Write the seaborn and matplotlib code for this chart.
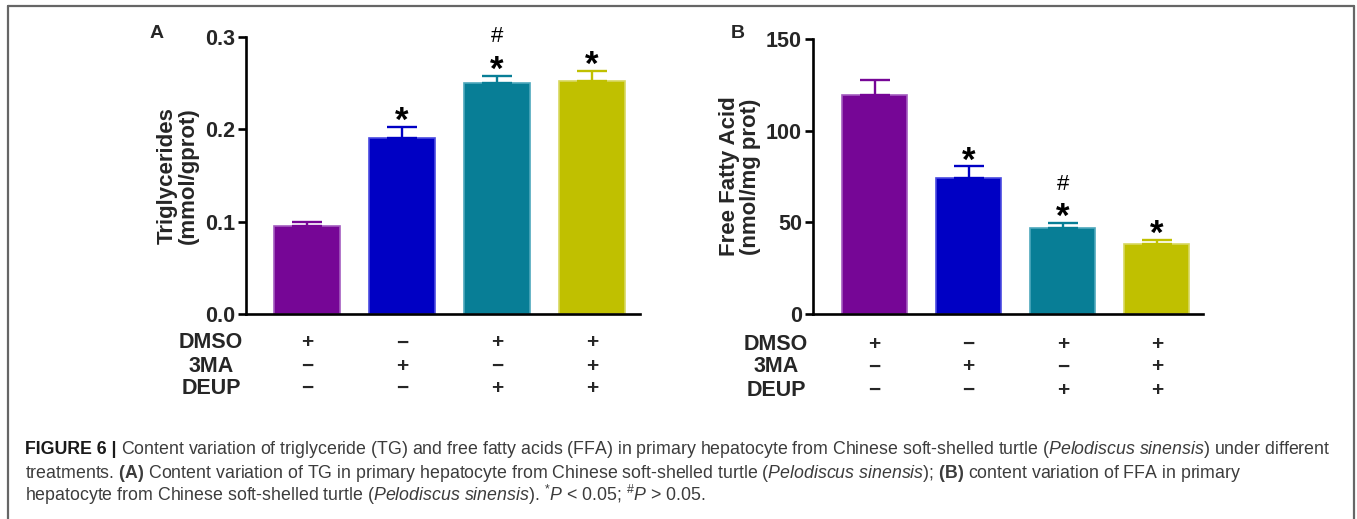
import numpy as np
import pandas as pd
import matplotlib
matplotlib.use("Agg")
import matplotlib.pyplot as plt
import matplotlib.transforms as mtransforms
from matplotlib.lines import Line2D
import seaborn as sns

# ---------------- data ----------------
groups = ["DMSO", "3MA", "DEUP", "3MA+DEUP"]
tg_mean = [0.095, 0.191, 0.250, 0.252]
tg_err = [0.005, 0.012, 0.008, 0.011]
ffa_mean = [119.5, 74.0, 47.1, 38.0]
ffa_err = [8.1, 6.5, 2.5, 2.4]
tg_marks = ["", "*", "*", "*"]
tg_hash = ["", "", "#", ""]
ffa_marks = ["", "*", "*", "*"]
ffa_hash = ["", "", "#", ""]
row_names = ["DMSO", "3MA", "DEUP"]
dmso_signs = ["+", "\u2212", "+", "+"]
ma3_signs = ["\u2212", "+", "\u2212", "+"]
deup_signs = ["\u2212", "\u2212", "+", "+"]
colors = ["#760696", "#0000C4", "#087E96", "#C0C000"]
edges = ["#A45CC0", "#4A4AE0", "#4EA8BC", "#D8D860"]

sns.set_style("ticks")
plt.rcParams["font.family"] = ["Liberation Sans", "DejaVu Sans"]
plt.rcParams["mathtext.fontset"] = "custom"
plt.rcParams["mathtext.rm"] = "Liberation Sans"
plt.rcParams["mathtext.it"] = "Liberation Sans:italic"
plt.rcParams["mathtext.bf"] = "Liberation Sans:bold"

W, H = 1357, 519
fig = plt.figure(figsize=(W / 100, H / 100), dpi=100)
fig.patch.set_facecolor("white")


def px_axes(l, r, b, t):
    return fig.add_axes([l / W, 1 - b / H, (r - l) / W, (b - t) / H])


axA = px_axes(246, 640, 314, 37)
axB = px_axes(813, 1203, 314, 39)


def panel(ax, means, errs, ymax, yticks, ylabel, labx, xlim, marks, hashes, fmt):
    df = pd.DataFrame({"group": groups, "value": means})
    sns.barplot(data=df, x="group", y="value", hue="group", palette=colors,
                order=groups, hue_order=groups, width=0.69, errorbar=None,
                legend=False, ax=ax, saturation=1)
    for p, ec in zip(ax.patches, edges):
        p.set_edgecolor(ec)
        p.set_linewidth(1.2)
    for i, (m, e) in enumerate(zip(means, errs)):
        ax.errorbar([i], [m], yerr=[[0], [e]], fmt="none", ecolor=colors[i],
                    elinewidth=1.7, capsize=10.8, capthick=1.7, zorder=5)
        top = m + e
        if marks[i]:
            ax.annotate(marks[i], (i, top), xytext=(0, -3), textcoords="offset points",
                        ha="center", va="baseline", fontsize=25, fontweight="bold",
                        color="black")
        if hashes[i]:
            ax.annotate(hashes[i], (i, top), xytext=(0, 28), textcoords="offset points",
                        ha="center", va="center", fontsize=16, color="black")
    ax.set_xlim(*xlim)
    ax.set_ylim(0, ymax)
    ax.set_yticks(yticks)
    ax.set_yticklabels([fmt.format(v) for v in yticks], fontweight="bold", fontsize=15.5)
    ax.set_xticks([])
    ax.set_xlabel("")
    ax.set_ylabel(ylabel, fontsize=16, fontweight="bold", linespacing=1.05)
    ax.yaxis.set_label_coords(labx, 0.5)
    ax.yaxis.label.set_va("center")
    for s in ["top", "right"]:
        ax.spines[s].set_visible(False)
    for s in ["left", "bottom"]:
        ax.spines[s].set_linewidth(1.9)
        ax.spines[s].set_color("black")
    ax.tick_params(axis="y", width=1.9, length=6, color="black", pad=2)
    ax.set_facecolor("white")


panel(axA, tg_mean, tg_err, 0.3, [0.0, 0.1, 0.2, 0.3],
      "Triglycerides\n(mmol/gprot)", -0.173, (-0.642, 3.505), tg_marks, tg_hash, "{:.1f}")
panel(axB, ffa_mean, ffa_err, 150, [0, 50, 100, 150],
      "Free Fatty Acid\n(nmol/mg prot)", -0.187, (-0.654, 3.49), ffa_marks, ffa_hash, "{:.0f}")

# panel letters
fig.text(157 / W, 1 - 33 / H, "A", fontsize=14, fontweight="bold", ha="center", va="center")
fig.text(738 / W, 1 - 33 / H, "B", fontsize=14, fontweight="bold", ha="center", va="center")

# treatment table
rows = [dmso_signs, ma3_signs, deup_signs]
for ax, labx, ys in [(axA, 211, [343, 366, 388]), (axB, 776, [344, 367, 390])]:
    tr = mtransforms.blended_transform_factory(ax.transData, fig.transFigure)
    for name, signs, y in zip(row_names, rows, ys):
        fig.text(labx / W, 1 - y / H, name, fontsize=15.5, fontweight="bold",
                 ha="center", va="center")
        for i, s in enumerate(signs):
            ax.text(i, 1 - y / H, s, transform=tr, fontsize=15, fontweight="bold",
                    ha="center", va="center", clip_on=False)

# border
ident = mtransforms.IdentityTransform()
bcol = "#666666"
fig.add_artist(Line2D([8, 8], [-5, H - 6], transform=ident, color=bcol, lw=1.6))
fig.add_artist(Line2D([8, 1354], [H - 6, H - 6], transform=ident, color=bcol, lw=1.6))
fig.add_artist(Line2D([1354, 1354], [-5, H - 6], transform=ident, color=bcol, lw=1.6))

# caption
cap_gray = "#3c3c3c"
line1 = ("Content variation of triglyceride (TG) and free fatty acids (FFA) in primary "
         "hepatocyte from Chinese soft-shelled turtle ($\\mathit{Pelodiscus\\ sinensis}$) "
         "under different")
line2 = ("treatments. $\\mathbf{(A)}$ Content variation of TG in primary hepatocyte from "
         "Chinese soft-shelled turtle ($\\mathit{Pelodiscus\\ sinensis}$); $\\mathbf{(B)}$ "
         "content variation of FFA in primary")
line3 = ("hepatocyte from Chinese soft-shelled turtle ($\\mathit{Pelodiscus\\ sinensis}$). "
         "${}^{*}\\mathit{P}$ < 0.05; ${}^{\\#}\\mathit{P}$ > 0.05.")

renderer = fig.canvas.get_renderer()


def draw_caption(fs):
    arts = []
    x0 = 25
    t0 = fig.text(x0, H - 454, "FIGURE 6 |", transform=ident, fontsize=fs,
                  fontweight="bold", color="#1a1a1a", va="baseline", ha="left")
    arts.append(t0)
    bb = t0.get_window_extent(renderer)
    probe1 = fig.text(0, 0, "a a", fontsize=fs, transform=ident)
    probe2 = fig.text(0, 0, "aa", fontsize=fs, transform=ident)
    sw = probe1.get_window_extent(renderer).width - probe2.get_window_extent(renderer).width
    probe1.remove()
    probe2.remove()
    t1 = fig.text(bb.x1 + sw, H - 454, line1, transform=ident, fontsize=fs,
                  color=cap_gray, va="baseline", ha="left")
    arts.append(t1)
    t2 = fig.text(x0, H - 477.5, line2, transform=ident, fontsize=fs,
                  color=cap_gray, va="baseline", ha="left")
    t3 = fig.text(x0, H - 501, line3, transform=ident, fontsize=fs,
                  color=cap_gray, va="baseline", ha="left")
    arts += [t2, t3]
    right = t1.get_window_extent(renderer).x1
    return arts, right


fs0 = 10.0
arts, right = draw_caption(fs0)
scale = (1333 - 25) / (right - 25)
for a in arts:
    a.remove()
fs = fs0 * scale
draw_caption(fs)

fig.savefig("out.png", dpi=100, facecolor="white")
